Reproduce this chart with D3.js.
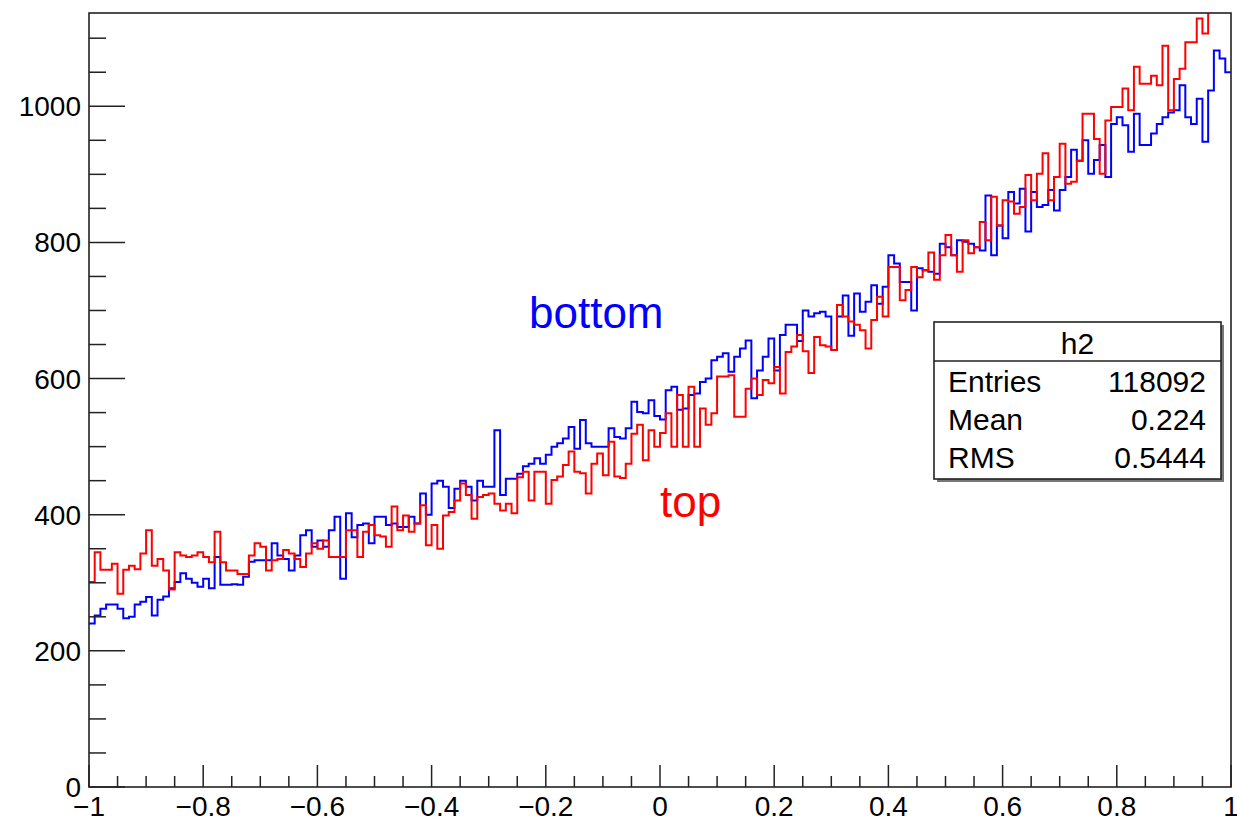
<!DOCTYPE html>
<html><head><meta charset="utf-8">
<script src="https://cdn.jsdelivr.net/npm/d3@7"></script>
<style>
body{margin:0;background:#fff}
text{font-family:"Liberation Sans",Arial,Helvetica,sans-serif}
</style>
</head><body>
<svg id="c" width="1237" height="820"></svg>
<script>
// ---- data ----
const xRange = [-1, 1];
const nBins = 200;
const yMaxAxis = 1137;
const xTickValues = [-1, -0.8, -0.6, -0.4, -0.2, 0, 0.2, 0.4, 0.6, 0.8, 1];
const xTickLabels = ["\u22121", "\u22120.8", "\u22120.6", "\u22120.4", "\u22120.2", "0", "0.2", "0.4", "0.6", "0.8", "1"];
const yTickValues = [0, 200, 400, 600, 800, 1000];
const yTickLabels = ["0", "200", "400", "600", "800", "1000"];

const bottomCounts = [
240,252,262,268,268,262,248,250,268,272,279,252,275,280,292,301,314,306,300,294,306,292,338,297,297,298,
297,309,331,333,333,333,358,340,335,318,340,370,377,353,362,353,377,397,306,402,367,385,387,358,397,
397,385,387,382,382,397,387,431,400,446,450,441,410,438,450,441,421,450,441,441,524,429,453,453,
460,471,475,483,475,488,500,505,512,529,497,539,505,500,500,500,527,514,512,527,566,551,549,568,545,
540,583,588,554,556,576,578,595,600,627,632,637,610,632,644,656,571,612,632,659,612,664,679,679,655,
700,691,696,698,691,642,691,722,663,725,698,713,737,710,735,781,769,742,742,700,762,759,757,754,798,
793,781,803,801,798,793,788,869,781,825,806,874,857,879,816,874,852,855,877,847,877,896,936,920,950,
901,921,943,896,974,984,972,933,989,943,943,960,974,984,991,994,1031,984,974,1011,948,1023,1082,1070,1050
];
const topCounts = [
301,345,319,319,328,284,319,325,320,343,377,325,335,318,290,345,340,338,340,345,338,330,375,330,318,318,
313,313,340,358,353,318,333,335,348,343,335,323,343,358,350,362,338,338,338,377,377,338,375,385,370,
368,353,412,377,399,375,387,414,355,385,350,399,404,421,446,429,394,426,429,431,416,406,416,402,
455,463,421,463,463,416,451,456,473,493,463,461,431,475,490,458,507,456,454,475,519,532,480,524,500,
520,549,500,576,500,588,500,556,532,549,603,603,605,544,544,585,600,576,598,593,617,578,639,647,664,
640,608,661,649,647,642,708,691,684,679,671,644,686,720,691,764,764,715,730,764,749,759,785,745,781,
811,781,757,803,784,793,830,803,867,825,862,860,842,852,899,862,901,931,862,896,945,886,889,920,989,
989,952,901,979,999,999,1026,994,1058,1033,1033,1045,1031,1089,994,1040,1055,1094,1094,1129,1107,1160,1180,1150,1170
];
const statsTitle = "h2";
const statsRows = [["Entries", "118092"], ["Mean", "0.224"], ["RMS", "0.5444"]];
const labelBottom = "bottom";
const labelTop = "top";

// ---- layout ----
const L = 89, R = 1231, T = 13, B = 787;
const svg = d3.select("#c");
const x = d3.scaleLinear().domain(xRange).range([L, R]);
const y = d3.scaleLinear().domain([0, yMaxAxis]).range([B, T]);
const binW = (xRange[1] - xRange[0]) / nBins;

svg.append("defs").append("clipPath").attr("id", "clip")
  .append("rect").attr("x", L).attr("y", T).attr("width", R - L).attr("height", B - T);

function histPath(counts) {
  const pts = counts.map((v, i) => [xRange[0] + i * binW, v]);
  pts.push([xRange[1], counts[counts.length - 1]]);
  return d3.line().x(d => x(d[0])).y(d => y(d[1])).curve(d3.curveStepAfter)(pts);
}

const g = svg.append("g").attr("clip-path", "url(#clip)");
g.append("path").attr("d", histPath(bottomCounts)).attr("fill", "none")
  .attr("stroke", "#0000ff").attr("stroke-width", 2);
g.append("path").attr("d", histPath(topCounts)).attr("fill", "none")
  .attr("stroke", "#ff0000").attr("stroke-width", 2);

// frame
svg.append("rect").attr("x", L).attr("y", T).attr("width", R - L).attr("height", B - T)
  .attr("fill", "none").attr("stroke", "#222").attr("stroke-width", 1.6);

// y ticks
const yMinor = d3.range(0, yMaxAxis + 1, 50);
svg.append("g").selectAll("line").data(yMinor).join("line")
  .attr("x1", L).attr("x2", d => L + (d % 200 === 0 ? 36 : 17))
  .attr("y1", d => y(d)).attr("y2", d => y(d))
  .attr("stroke", "#222").attr("stroke-width", 1.5);
svg.append("g").selectAll("text").data(yTickValues).join("text")
  .attr("x", L - 8).attr("y", d => y(d)).attr("dy", "0.36em")
  .attr("text-anchor", "end").attr("font-size", 28).attr("fill", "#000")
  .text((d, i) => yTickLabels[i]);

// x ticks
const xMinor = d3.range(0, 41).map(i => xRange[0] + i * 0.05);
svg.append("g").selectAll("line").data(xMinor).join("line")
  .attr("x1", d => x(d)).attr("x2", d => x(d))
  .attr("y1", B).attr("y2", (d, i) => B - (i % 4 === 0 ? 22 : 11))
  .attr("stroke", "#222").attr("stroke-width", 1.5);
svg.append("g").selectAll("text").data(xTickValues).join("text")
  .attr("x", d => x(d)).attr("y", 816)
  .attr("text-anchor", "middle").attr("font-size", 28).attr("fill", "#000")
  .text((d, i) => xTickLabels[i]);

// annotations
svg.append("text").attr("x", 529).attr("y", 328).attr("font-size", 44)
  .attr("fill", "#0000ff").text(labelBottom);
svg.append("text").attr("x", 660).attr("y", 517).attr("font-size", 44)
  .attr("fill", "#ff0000").text(labelTop);

// stats box
const sx = 934, sy = 322, sw = 287, sh = 157;
svg.append("rect").attr("x", sx + 3).attr("y", sy + 3).attr("width", sw).attr("height", sh)
  .attr("fill", "#777");
svg.append("rect").attr("x", sx).attr("y", sy).attr("width", sw).attr("height", sh)
  .attr("fill", "#fff").attr("stroke", "#222").attr("stroke-width", 1.6);
svg.append("line").attr("x1", sx).attr("x2", sx + sw).attr("y1", 361).attr("y2", 361)
  .attr("stroke", "#222").attr("stroke-width", 1.6);
svg.append("text").attr("x", sx + sw / 2).attr("y", 354).attr("text-anchor", "middle")
  .attr("font-size", 30).attr("fill", "#000").text(statsTitle);
const rowY = [392, 430, 468];
statsRows.forEach((r, i) => {
  svg.append("text").attr("x", 948).attr("y", rowY[i]).attr("font-size", 30).attr("fill", "#000").text(r[0]);
  svg.append("text").attr("x", 1206).attr("y", rowY[i]).attr("text-anchor", "end")
    .attr("font-size", 30).attr("fill", "#000").text(r[1]);
});
</script>
</body></html>
